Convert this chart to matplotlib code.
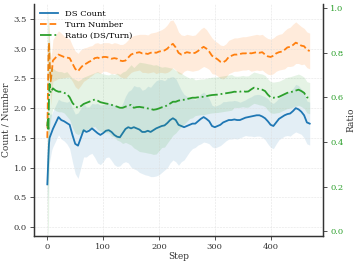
import numpy as np
import matplotlib
matplotlib.use("Agg")
import matplotlib.pyplot as plt

plt.rcParams['font.family'] = 'DejaVu Serif'

# pasos de entrenamiento
steps = [0, 1, 2, 3, 4, 6, 8] + list(range(10, 471, 5))

# DS Count (eje izquierdo)
ds_mean = [0.72, 0.95, 1.2, 1.4, 1.5, 1.55, 1.6,
           1.65, 1.75, 1.85, 1.8, 1.78, 1.75, 1.72, 1.55, 1.4, 1.37,
           1.5, 1.63, 1.6, 1.62, 1.66, 1.62, 1.58, 1.55, 1.58, 1.62,
           1.63, 1.6, 1.55, 1.52, 1.51, 1.58, 1.65, 1.68, 1.66, 1.68,
           1.66, 1.64, 1.6, 1.6, 1.62, 1.6, 1.63, 1.66, 1.68, 1.7,
           1.71, 1.75, 1.8, 1.83, 1.8, 1.72, 1.7, 1.68, 1.7, 1.72,
           1.74, 1.74, 1.78, 1.82, 1.85, 1.82, 1.78, 1.7, 1.68, 1.7,
           1.72, 1.76, 1.78, 1.8, 1.8, 1.81, 1.8, 1.8, 1.82, 1.84,
           1.85, 1.86, 1.87, 1.88, 1.88, 1.86, 1.83, 1.78, 1.72, 1.7,
           1.76, 1.82, 1.85, 1.88, 1.9, 1.91, 1.95, 2.0, 1.98, 1.94,
           1.88, 1.76, 1.74]
ds_std = [0.3, 0.4, 0.42, 0.4, 0.4, 0.35, 0.3,
          0.3, 0.3, 0.3, 0.32, 0.33, 0.35, 0.4, 0.45, 0.5, 0.55,
          0.5, 0.45, 0.42, 0.4, 0.42, 0.45, 0.5, 0.5, 0.48, 0.45,
          0.45, 0.48, 0.5, 0.5, 0.48, 0.5, 0.55, 0.6, 0.65, 0.7,
          0.7, 0.72, 0.7, 0.72, 0.75, 0.75, 0.78, 0.8, 0.8, 0.78,
          0.75, 0.75, 0.72, 0.7, 0.7, 0.68, 0.6, 0.55, 0.5, 0.45,
          0.42, 0.4, 0.4, 0.42, 0.42, 0.4, 0.38, 0.35, 0.35, 0.35,
          0.35, 0.35, 0.33, 0.32, 0.32, 0.32, 0.32, 0.3, 0.3, 0.3,
          0.32, 0.33, 0.35, 0.35, 0.35, 0.35, 0.36, 0.38, 0.38, 0.38,
          0.36, 0.35, 0.35, 0.35, 0.36, 0.38, 0.38, 0.4, 0.4, 0.38,
          0.38, 0.36, 0.36]

# Turn Number (eje izquierdo)
turn_mean = [1.5, 2.2, 2.9, 3.1, 2.8, 2.45, 2.6,
             2.8, 2.85, 2.9, 2.88, 2.86, 2.85, 2.84, 2.75, 2.66, 2.62,
             2.68, 2.73, 2.75, 2.78, 2.8, 2.84, 2.85, 2.83, 2.86, 2.86,
             2.85, 2.83, 2.84, 2.83, 2.8, 2.79, 2.8, 2.85, 2.9, 2.92,
             2.93, 2.94, 2.92, 2.92, 2.91, 2.93, 2.94, 2.93, 2.95, 2.96,
             2.97, 3.0, 3.05, 3.08, 3.02, 2.93, 2.9, 2.92, 2.94, 2.93,
             2.92, 2.93, 2.96, 3.0, 3.03, 3.0, 2.95, 2.88, 2.85, 2.82,
             2.78, 2.77, 2.8, 2.86, 2.88, 2.9, 2.9, 2.91, 2.92, 2.92,
             2.93, 2.92, 2.93, 2.94, 2.93, 2.94, 2.9, 2.87, 2.86, 2.88,
             2.92, 2.94, 2.95, 2.98, 3.02, 3.03, 3.06, 3.1, 3.08, 3.05,
             3.04, 2.98, 2.96]
turn_std = [0.3, 0.5, 0.5, 0.4, 0.35, 0.4, 0.35,
            0.35, 0.38, 0.4, 0.38, 0.35, 0.33, 0.32, 0.3, 0.3, 0.3,
            0.3, 0.28, 0.27, 0.26, 0.25, 0.25, 0.25, 0.25, 0.24, 0.24,
            0.25, 0.25, 0.26, 0.26, 0.27, 0.28, 0.3, 0.3, 0.3, 0.3,
            0.3, 0.3, 0.32, 0.32, 0.32, 0.33, 0.33, 0.35, 0.35, 0.36,
            0.38, 0.4, 0.42, 0.4, 0.38, 0.35, 0.33, 0.3, 0.3, 0.3,
            0.3, 0.3, 0.32, 0.33, 0.33, 0.32, 0.3, 0.3, 0.28, 0.28,
            0.28, 0.28, 0.28, 0.28, 0.28, 0.28, 0.28, 0.28, 0.28, 0.28,
            0.28, 0.3, 0.3, 0.3, 0.3, 0.3, 0.3, 0.3, 0.3, 0.3,
            0.3, 0.3, 0.3, 0.32, 0.32, 0.33, 0.35, 0.35, 0.33, 0.32,
            0.3, 0.3, 0.3]

# Ratio DS/Turn (eje derecho)
ratio_mean = [0.47, 0.5, 0.45, 0.6, 0.66, 0.62, 0.63,
              0.64, 0.63, 0.625, 0.625, 0.62, 0.615, 0.6, 0.575, 0.56, 0.553,
              0.56, 0.57, 0.575, 0.58, 0.585, 0.59, 0.585, 0.578, 0.575, 0.572,
              0.57, 0.566, 0.562, 0.558, 0.553, 0.553, 0.558, 0.562, 0.566, 0.553,
              0.556, 0.557, 0.555, 0.553, 0.55, 0.548, 0.544, 0.546, 0.55, 0.555,
              0.557, 0.565, 0.572, 0.58, 0.58, 0.585, 0.588, 0.589, 0.592, 0.595,
              0.598, 0.598, 0.6, 0.602, 0.602, 0.605, 0.608, 0.61, 0.611, 0.612,
              0.614, 0.616, 0.618, 0.62, 0.622, 0.625, 0.624, 0.625, 0.628, 0.625,
              0.626, 0.635, 0.643, 0.64, 0.636, 0.634, 0.628, 0.612, 0.6, 0.598,
              0.6, 0.602, 0.608, 0.614, 0.62, 0.622, 0.626, 0.63, 0.634, 0.628,
              0.62, 0.6, 0.596]
ratio_std = [0.4, 0.5, 0.48, 0.3, 0.2, 0.12, 0.1,
             0.09, 0.09, 0.09, 0.09, 0.09, 0.1, 0.1, 0.11, 0.12, 0.12,
             0.12, 0.12, 0.12, 0.12, 0.12, 0.12, 0.13, 0.13, 0.13, 0.13,
             0.13, 0.14, 0.14, 0.15, 0.15, 0.16, 0.16, 0.17, 0.18, 0.18,
             0.19, 0.2, 0.2, 0.2, 0.2, 0.2, 0.2, 0.2, 0.19, 0.18,
             0.18, 0.17, 0.16, 0.15, 0.14, 0.13, 0.12, 0.11, 0.1, 0.09,
             0.09, 0.08, 0.08, 0.08, 0.08, 0.08, 0.08, 0.08, 0.08, 0.08,
             0.08, 0.08, 0.08, 0.08, 0.08, 0.07, 0.07, 0.07, 0.07, 0.07,
             0.07, 0.07, 0.07, 0.07, 0.07, 0.07, 0.07, 0.07, 0.07, 0.07,
             0.07, 0.07, 0.07, 0.07, 0.07, 0.07, 0.07, 0.07, 0.07, 0.07,
             0.07, 0.07, 0.07]

steps = np.array(steps)
ds_mean, ds_std = np.array(ds_mean), np.array(ds_std)
turn_mean, turn_std = np.array(turn_mean), np.array(turn_std)
ratio_mean, ratio_std = np.array(ratio_mean), np.array(ratio_std)

c_blue, c_orange, c_green = '#1f77b4', '#ff7f0e', '#2ca02c'
dark = '#333333'

fig, ax = plt.subplots(figsize=(3.57, 2.65), dpi=100)
fig.subplots_adjust(left=0.095, right=0.905, bottom=0.109, top=0.985)
ax2 = ax.twinx()

# bandas de desviacion
ax.fill_between(steps, ds_mean - ds_std, ds_mean + ds_std, color=c_blue, alpha=0.12, linewidth=0)
ax.fill_between(steps, turn_mean - turn_std, turn_mean + turn_std, color=c_orange, alpha=0.15, linewidth=0)
ax2.fill_between(steps, ratio_mean - ratio_std, ratio_mean + ratio_std, color=c_green, alpha=0.12, linewidth=0)

l1, = ax.plot(steps, ds_mean, color=c_blue, lw=1.3, label='DS Count')
l2, = ax.plot(steps, turn_mean, color=c_orange, lw=1.3, ls='--', label='Turn Number')
l3, = ax2.plot(steps, ratio_mean, color=c_green, lw=1.3, ls='-.', label='Ratio (DS/Turn)')

ax.set_xlim(-24, 494)
ax.set_ylim(-0.15, 3.75)
ax2.set_ylim(-0.022, 1.018)
ax.set_yticks(np.arange(0, 3.6, 0.5))
ax2.set_yticks(np.arange(0, 1.01, 0.2))
ax.set_xticks([0, 100, 200, 300, 400])

ax.set_xlabel('Step', fontsize=6.5, color=dark, labelpad=1)
ax.set_ylabel('Count / Number', fontsize=6.5, color=dark, labelpad=2)
ax2.set_ylabel('Ratio', fontsize=6.5, color=dark, labelpad=2)

ax.tick_params(labelsize=6, colors=dark, length=3, width=0.6, pad=2)
ax2.tick_params(labelsize=6, colors=dark, labelcolor=c_green, length=3, width=0.6, pad=2)

ax.grid(True, ls='--', lw=0.4, color='#dddddd', alpha=0.8)
for a in (ax, ax2):
    a.spines['top'].set_visible(False)
    for s in ('left', 'bottom', 'right'):
        a.spines[s].set_color(dark)
        a.spines[s].set_linewidth(0.9)

ax.legend(handles=[l1, l2, l3], loc='upper left', fontsize=6, frameon=False,
          borderaxespad=0.3, handlelength=2.2, labelspacing=0.35)

fig.savefig('out.png', dpi=100)
